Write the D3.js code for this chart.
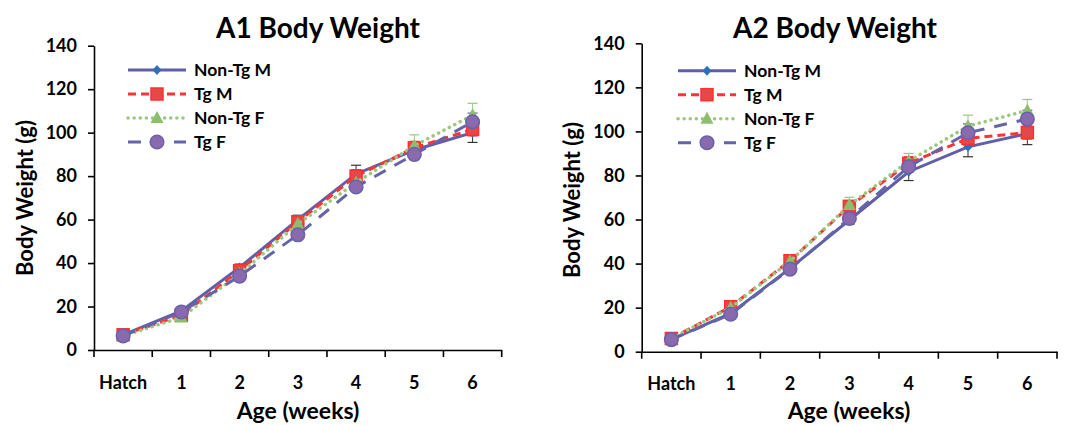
<!DOCTYPE html>
<html>
<head>
<meta charset="utf-8">
<script src="https://cdn.jsdelivr.net/npm/d3@7"></script>
<style>
  body { margin: 0; background: #fff; }
  text { font-family: Lato, "Open Sans", sans-serif; font-weight: bold; fill: #000; }
</style>
</head>
<body>
<div id="chart"></div>
<script>
// categories and tick labels
var ages = ['Hatch', '1', '2', '3', '4', '5', '6'];
var yTicks = [0, 20, 40, 60, 80, 100, 120, 140];
var seriesNames = ['Non-Tg M', 'Tg M', 'Non-Tg F', 'Tg F'];

// A1 body weight (g)
var a1NonTgM = [7, 18, 38, 60, 81, 92, 100];
var a1TgM    = [7, 16, 36.5, 59, 80, 93, 101.5];
var a1NonTgF = [6.5, 15, 35, 58, 77, 94, 108];
var a1TgF    = [6.5, 17.5, 34, 53, 75, 90, 105];
// A1 error (SE)
var a1NonTgMErr = [0.5, 1, 1.5, 2, 4, 3, 4.5];
var a1TgMErr    = [0.5, 1, 1.5, 2, 3, 3, 3];
var a1NonTgFErr = [0.5, 1, 1.5, 2, 3, 5, 5.5];
var a1TgFErr    = [0.5, 1, 1.5, 2, 2, 2.5, 4];

// A2 body weight (g)
var a2NonTgM = [5.6, 17.4, 37.8, 59.8, 81.7, 93, 99];
var a2TgM    = [6, 20.4, 41.3, 66, 85.5, 96.8, 99.5];
var a2NonTgF = [6, 20, 41, 66.6, 86.5, 102.4, 109.5];
var a2TgF    = [5.5, 17, 37.5, 60.5, 84, 99.4, 105.6];
// A2 error (SE)
var a2NonTgMErr = [0.5, 1, 1.5, 2, 4, 4.5, 5];
var a2TgMErr    = [0.5, 1, 1.5, 2, 3, 3, 3];
var a2NonTgFErr = [0.5, 1, 1.5, 3.5, 3.5, 5, 5];
var a2TgFErr    = [0.5, 1, 1.5, 2, 2.5, 4, 4];

var width = 1065;
var height = 425;

var svg = d3.select('div#chart')
    .append('svg')
    .attr('width', width)
    .attr('height', height);

// line and marker styles for each series
var styles = [
    {line: '#5f5fa8', dash: null, marker: 'diamond', fill: '#2f70bb', stroke: '#2f70bb', err: '#333'},
    {line: '#ff3333', dash: '8,5', marker: 'square', fill: '#e44848', stroke: '#ff3030', err: '#ff3333'},
    {line: '#9cc87e', dash: '0.1,6', marker: 'triangle', fill: '#8cbf6c', stroke: '#8cbf6c', err: '#9cc87e'},
    {line: '#6464a8', dash: '13,10', marker: 'circle', fill: '#8a6aae', stroke: '#6a62a8', err: '#6464a8'}
];

function drawMarker(g, type, x, y, s) {
    if (type === 'diamond') {
        g.append('path')
            .attr('d', 'M' + x + ',' + (y - 5) + 'L' + (x + 4.5) + ',' + y + 'L' + x + ',' + (y + 5) + 'L' + (x - 4.5) + ',' + y + 'Z')
            .attr('fill', s.fill);
    } else if (type === 'square') {
        g.append('rect')
            .attr('x', x - 6).attr('y', y - 6)
            .attr('width', 12).attr('height', 12)
            .attr('fill', s.fill).attr('stroke', s.stroke).attr('stroke-width', 1.5);
    } else if (type === 'triangle') {
        g.append('path')
            .attr('d', 'M' + x + ',' + (y - 7) + 'L' + (x + 6.5) + ',' + (y + 5) + 'L' + (x - 6.5) + ',' + (y + 5) + 'Z')
            .attr('fill', s.fill);
    } else {
        g.append('circle')
            .attr('cx', x).attr('cy', y).attr('r', 6.8)
            .attr('fill', s.fill).attr('stroke', s.stroke).attr('stroke-width', 1.5);
    }
}

function drawPanel(p) {
    var g = svg.append('g');

    var x = d3.scaleBand().domain(ages).range([p.left, p.right]);
    var y = d3.scaleLinear().domain([0, 140]).range([p.bottom, p.top]);

    // y axis
    var yAxis = g.append('g')
        .attr('transform', 'translate(' + p.left + ',0)')
        .call(d3.axisLeft(y).tickValues(yTicks).tickSize(6).tickSizeOuter(0).tickPadding(11));
    yAxis.select('.domain').attr('stroke', '#000').attr('stroke-width', 1.6);
    yAxis.selectAll('.tick line').attr('stroke', '#000').attr('stroke-width', 1.6);
    yAxis.selectAll('text').style('font-size', '18px').attr('fill', '#000');

    // x axis with ticks at category boundaries
    var xAxis = g.append('g')
        .attr('transform', 'translate(0,' + p.bottom + ')')
        .call(d3.axisBottom(x).tickSize(0).tickPadding(26));
    xAxis.select('.domain').attr('stroke', '#000').attr('stroke-width', 1.6);
    xAxis.selectAll('text').style('font-size', '18px').attr('fill', '#000');
    var edges = ages.map(function(a) { return x(a); }).concat([x.range()[1]]);
    g.selectAll('.edgeTick')
        .data(edges)
        .enter()
        .append('line')
        .attr('x1', d => d).attr('x2', d => d)
        .attr('y1', p.bottom).attr('y2', p.bottom + 7)
        .attr('stroke', '#000').attr('stroke-width', 1.6);

    var cx = function(i) { return x(ages[i]) + x.bandwidth() / 2; };

    // error bars
    p.series.forEach(function(vals, si) {
        var s = styles[si];
        var errs = p.errors[si];
        vals.forEach(function(v, i) {
            var e = errs[i];
            g.append('line')
                .attr('x1', cx(i)).attr('x2', cx(i))
                .attr('y1', y(v - e)).attr('y2', y(v + e))
                .attr('stroke', s.err).attr('stroke-width', 1);
            [v - e, v + e].forEach(function(c) {
                g.append('line')
                    .attr('x1', cx(i) - 5).attr('x2', cx(i) + 5)
                    .attr('y1', y(c)).attr('y2', y(c))
                    .attr('stroke', s.err).attr('stroke-width', 1.2);
            });
        });
    });

    // series lines and markers
    p.series.forEach(function(vals, si) {
        var s = styles[si];
        var line = d3.line()
            .x(function(d, i) { return cx(i); })
            .y(function(d) { return y(d); });
        g.append('path')
            .datum(vals)
            .attr('d', line)
            .attr('fill', 'none')
            .attr('stroke', s.line)
            .attr('stroke-width', si === 2 ? 3.5 : 3)
            .attr('stroke-linecap', si === 2 ? 'round' : 'butt')
            .attr('stroke-dasharray', s.dash);
        vals.forEach(function(v, i) {
            drawMarker(g, s.marker, cx(i), y(v), s);
        });
    });

    // legend
    seriesNames.forEach(function(name, si) {
        var s = styles[si];
        var ly = p.legendY + si * 24;
        g.append('line')
            .attr('x1', p.legendX).attr('x2', p.legendX + 58)
            .attr('y1', ly).attr('y2', ly)
            .attr('stroke', s.line)
            .attr('stroke-width', si === 2 ? 3.5 : 3)
            .attr('stroke-linecap', si === 2 ? 'round' : 'butt')
            .attr('stroke-dasharray', s.dash);
        drawMarker(g, s.marker, p.legendX + 29, ly, s);
        g.append('text')
            .attr('x', p.legendX + 66)
            .attr('y', ly + 6)
            .style('font-size', '17.5px')
            .text(name);
    });

    // titles
    g.append('text')
        .attr('x', p.titleX)
        .attr('y', 38)
        .style('text-anchor', 'middle')
        .style('font-size', '28px')
        .text(p.title);

    g.append('text')
        .attr('x', p.xLabelX)
        .attr('y', 419)
        .style('text-anchor', 'middle')
        .style('font-size', '23px')
        .text('Age (weeks)');

    g.append('text')
        .attr('transform', 'translate(' + p.yLabelX + ',' + p.yLabelY + ') rotate(-90)')
        .style('text-anchor', 'middle')
        .style('font-size', '22px')
        .text('Body Weight (g)');
}

drawPanel({
    left: 94, right: 501.7, top: 45.7, bottom: 350,
    series: [a1NonTgM, a1TgM, a1NonTgF, a1TgF],
    errors: [a1NonTgMErr, a1TgMErr, a1NonTgFErr, a1TgFErr],
    legendX: 128, legendY: 70,
    title: 'A1 Body Weight', titleX: 318,
    xLabelX: 298, yLabelX: 33, yLabelY: 198
});

drawPanel({
    left: 641.7, right: 1057, top: 43.3, bottom: 351.7,
    series: [a2NonTgM, a2TgM, a2NonTgF, a2TgF],
    errors: [a2NonTgMErr, a2TgMErr, a2NonTgFErr, a2TgFErr],
    legendX: 678, legendY: 70.7,
    title: 'A2 Body Weight', titleX: 835,
    xLabelX: 849, yLabelX: 580, yLabelY: 200
});
</script>
</body>
</html>
